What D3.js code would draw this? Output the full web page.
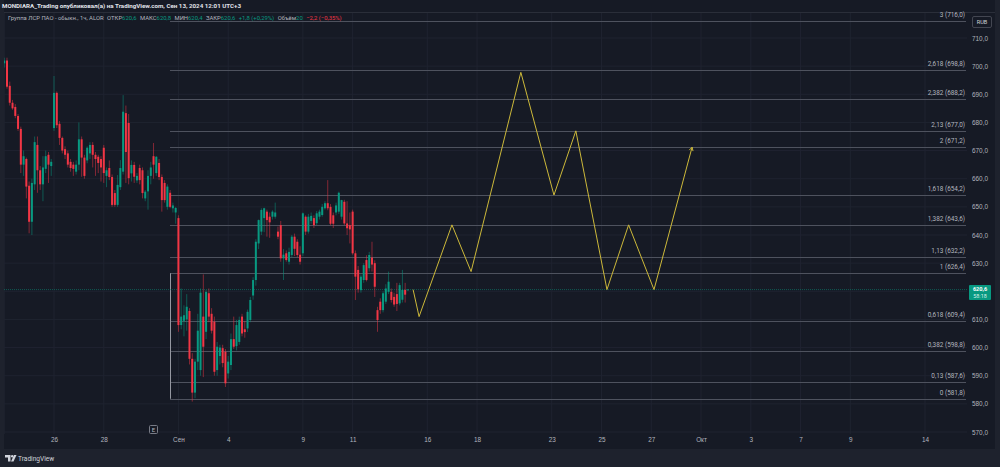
<!DOCTYPE html>
<html lang="ru">
<head>
<meta charset="UTF-8">
<title>Группа ЛСР ПАО, 1ч</title>
<script src="https://cdn.jsdelivr.net/npm/d3@7"></script>
<style>
  html, body { margin: 0; padding: 0; background: #1e222d; }
  svg { display: block; font-family: Roboto, "Noto Sans", Arial, sans-serif; }
</style>
</head>
<body>
<script>
// time axis: trading-day index -> label
const tickDays   = [2, 4, 7, 9, 12, 14, 17, 19, 22, 24, 26, 28, 30, 32, 34, 37];
const tickLabels = ["26", "28", "Сен", "4", "9", "11", "16", "18", "23", "25", "27", "Окт", "3", "7", "9", "14"];
const priceTicks = [570, 580, 590, 600, 610, 620, 630, 640, 650, 660, 670, 680, 690, 700, 710];

// hourly candles [open, high, low, close], 9 bars per trading day from Aug 22
const candles = [
  // Aug 22
  [701, 703, 699.5, 702], [702, 703, 692, 692.7], [693, 694.5, 686, 687], [687, 688, 684.5, 685],
  [685.5, 686.5, 681.5, 682.3], [682.3, 683, 677, 677.7], [677.7, 678.5, 662, 665], [665, 670, 661, 668],
  [667, 667.5, 653, 657.2],
  // Aug 23
  [657.5, 659, 640.6, 644.7], [644.7, 660, 640, 658.5], [658, 675, 656, 673], [672, 675, 655, 663],
  [663, 664.5, 656, 658], [658, 668, 652, 664], [663.5, 670, 662, 668], [668.5, 669.5, 658.5, 665],
  [664.5, 667, 661, 666],
  // Aug 26
  [678, 696.5, 677, 690.5], [690.5, 691, 678, 679], [679.5, 680.5, 672, 674.5], [674.5, 675, 669, 670],
  [670.5, 671.5, 667, 668.5], [669, 670, 664, 665], [666, 667, 662.5, 663.8], [665, 666, 661, 663.5],
  [662.5, 666.5, 661.5, 665],
  // Aug 27
  [665, 680, 663, 674], [674, 675, 660.7, 667.5], [667.5, 668.5, 660, 661], [666.5, 671.5, 665.5, 671],
  [669, 673, 667, 672], [672, 673, 664, 668.5], [668.5, 669.5, 661, 667], [667.8, 668.5, 662, 665.6],
  [667, 668, 659, 664],
  // Aug 28
  [671, 672, 658.5, 662], [661, 664, 657, 663], [663.8, 666.5, 659.5, 660.6], [660.6, 661.5, 650, 650.7],
  [654.9, 656, 650, 650.7], [650.7, 661.3, 650, 657.8], [657, 666.6, 656, 663.8], [662.5, 689.7, 661.5, 683.8],
  [683.3, 686, 658.5, 669.5],
  // Aug 29
  [679.8, 683, 658, 660.2], [661.9, 666.5, 659, 664.9], [664.9, 666, 658.5, 660.7], [659.4, 662, 658.5, 661],
  [663.8, 665, 658, 659.5], [663, 664, 653, 654.9], [653, 656, 652, 655.4], [655.5, 663, 649, 661],
  [661, 666, 658, 664],
  // Aug 30
  [668, 672.7, 660, 665], [662, 668, 661, 667.8], [665.6, 667, 659.5, 660.6], [660.6, 661.5, 648.3, 652.4],
  [658.5, 659.5, 651.5, 652.4], [650, 658, 649, 657.2], [655, 656, 649.5, 650], [649.5, 651.5, 648, 650.5],
  [648, 650, 644, 649.6],
  // Sep 2
  [646, 647, 605.6, 608], [608, 621, 606.5, 611], [609.5, 615, 604, 611.5], [610, 619, 606, 614.5],
  [613, 614, 594, 596], [596, 598, 580.8, 584], [584, 596, 582, 595], [595, 612, 592, 606],
  [592, 621, 590, 619.5],
  // Sep 3
  [611, 626, 589.5, 600.3], [605.6, 620.5, 603, 619.8], [619.3, 621, 609, 611], [612, 614, 605, 606],
  [609.2, 611, 590, 591.4], [592, 602, 590, 600.3], [597, 601, 594, 600], [599.8, 601, 593, 594.5],
  [598.5, 599.5, 586, 587.3],
  // Sep 4
  [590.8, 597, 589, 595], [593.8, 605, 592, 603], [603, 611, 599.5, 600.3], [600.5, 609.8, 599, 608],
  [602, 611, 601, 609.8], [611, 612, 604, 605], [606.5, 609.5, 603.5, 605.5], [606.8, 613.5, 605.5, 612.7],
  [609.8, 618, 609, 616.9],
  // Sep 5
  [618.5, 625, 617, 624], [624, 638.5, 622, 637.6], [637, 645.5, 635, 645.3], [641.2, 649.5, 640, 648.9],
  [646, 649.7, 641, 649.5], [648.3, 649, 639.4, 645.3], [646.5, 648, 639, 644.5], [646.5, 648.8, 645.5, 648.3],
  [646.5, 651.5, 645.8, 648],
  // Sep 6
  [641.2, 643, 638.5, 639.4], [643.5, 645, 630.5, 631.7], [631.7, 635, 624, 633], [633.5, 634.5, 630.5, 631.1],
  [630.5, 635.5, 629.5, 634], [632.9, 640, 632, 639.4], [639.4, 640.5, 632.5, 635.1], [637.6, 638.5, 632, 632.9],
  [633, 636, 629.5, 630.5],
  // Sep 9
  [633.5, 648, 632.5, 647.7], [646.5, 647, 640, 641.2], [641.2, 647.5, 640.5, 646.5], [645, 648, 644, 646.8],
  [646, 647, 642.5, 643.5], [644.2, 648.5, 643.5, 647.7], [646.5, 649, 645.5, 648.3], [647.1, 651, 646.5, 650],
  [649.5, 652, 649, 651.3],
  // Sep 10
  [651.3, 659.5, 648.8, 649.5], [650, 651, 643.5, 644], [647, 648, 642.5, 644], [648, 651.5, 647, 650.5],
  [648.3, 655.4, 647.5, 655], [646.5, 652.5, 645.5, 652.4], [651.8, 652.5, 643.5, 644.1], [644.1, 652, 640, 642.4],
  [643.5, 648, 637, 642],
  // Sep 11
  [648.3, 649, 633, 633.5], [633.5, 634.5, 616.9, 625.2], [627.6, 629, 619.5, 620.7], [620.4, 626, 619.5, 625.2],
  [624, 630, 623, 629.3], [631.1, 632.8, 623.5, 624], [628.2, 634, 627, 632.9], [632, 637.6, 627, 629.5],
  [630, 631, 618, 621.6],
  // Sep 12
  [613.3, 614.5, 605.6, 609.8], [616.3, 617.5, 612, 613.3], [613.3, 620, 612.5, 619.3], [616.3, 622.5, 615.5, 621],
  [619.8, 627, 619, 623.4], [619.8, 621, 616, 616.9], [618, 619.5, 614.5, 615.3], [619, 623, 613, 615.5],
  [615.7, 623, 615, 622.2],
  // Sep 13
  [617, 627.6, 616, 620.5], [620.5, 623, 616, 618.8], [620.6, 620.8, 620.4, 620.6]
];

// Fibonacci extension levels
const fibRatios = [0, 0.13, 0.382, 0.618, 1, 1.13, 1.382, 1.618, 2, 2.13, 2.382, 2.618, 3];
const fibPrices = [581.8, 587.6, 598.8, 609.4, 626.4, 632.2, 643.6, 654.2, 671.2, 677.0, 688.2, 698.8, 716.0];

// projected path (trading-day index, price)
const pathDays   = [16.43, 16.67, 17.99, 18.76, 20.76, 22.09, 22.97, 24.22, 25.09, 26.11, 27.64];
const pathPrices = [620.6, 611, 643.6, 627, 697.8, 654.2, 677, 620.6, 643.6, 620.6, 671.2];

const lastPrice = 620.6;

const W = 1000, H = 467;
const up = "#089981", down = "#f23645";
const comma = v => String(v).replace(".", ",");

const x = d3.scaleLinear().domain([0, 37]).range([4.23, 925]);
const y = d3.scaleLinear().domain([570, 710]).range([432, 38]);
const barX = i => x(Math.floor(i / 9) + (i % 9) / 9);

const svg = d3.select("body").append("svg").attr("width", W).attr("height", H);

// panels
svg.append("rect").attr("x", 0).attr("y", 0).attr("width", W).attr("height", H).attr("fill", "#1e222d");
svg.append("rect").attr("x", 4).attr("y", 0).attr("width", 991).attr("height", 449).attr("fill", "#161a25");
svg.append("line").attr("x1", 4).attr("x2", 995).attr("y1", 12.5).attr("y2", 12.5).attr("stroke", "#2a2e39");

svg.append("defs").append("clipPath").attr("id", "pane")
  .append("rect").attr("x", 4).attr("y", 13).attr("width", 963).attr("height", 421);

// grid
const grid = svg.append("g").attr("clip-path", "url(#pane)");
grid.selectAll("line.h").data(priceTicks).join("line")
  .attr("x1", 4).attr("x2", 967).attr("y1", d => y(d)).attr("y2", d => y(d))
  .attr("stroke", "#1f2330");
grid.selectAll("line.v").data([0].concat(tickDays)).join("line")
  .attr("x1", d => x(d)).attr("x2", d => x(d)).attr("y1", 13).attr("y2", 434)
  .attr("stroke", "#1f2330");

// fib levels
const fib = svg.append("g");
fib.selectAll("line").data(fibPrices).join("line")
  .attr("x1", 170).attr("x2", 966)
  .attr("y1", d => Math.round(y(d)) + 0.5).attr("y2", d => Math.round(y(d)) + 0.5)
  .attr("stroke", "#4e525e");
fib.selectAll("text").data(fibPrices).join("text")
  .attr("x", 965).attr("y", d => y(d) - 4)
  .attr("text-anchor", "end").attr("font-size", 6.4).attr("fill", "#b2b5be")
  .text((d, i) => `${comma(fibRatios[i])} (${d.toFixed(1).replace(".", ",")})`);
fib.append("line")
  .attr("x1", 170.5).attr("x2", 170.5).attr("y1", y(fibPrices[4])).attr("y2", y(fibPrices[0]))
  .attr("stroke", "#9598a1");

// last price line
svg.append("line")
  .attr("x1", 4).attr("x2", 967).attr("y1", y(lastPrice)).attr("y2", y(lastPrice))
  .attr("stroke", up).attr("stroke-opacity", 0.5).attr("stroke-dasharray", "1,1");

// candles
const cg = svg.append("g").attr("clip-path", "url(#pane)");
cg.selectAll("line").data(candles).join("line")
  .attr("x1", (d, i) => barX(i)).attr("x2", (d, i) => barX(i))
  .attr("y1", d => y(d[1])).attr("y2", d => y(d[2]))
  .attr("stroke", d => d[3] >= d[0] ? up : down).attr("stroke-opacity", 0.5).attr("stroke-width", 1);
cg.selectAll("rect").data(candles).join("rect")
  .attr("x", (d, i) => barX(i) - 1).attr("width", 2)
  .attr("y", d => y(Math.max(d[0], d[3])))
  .attr("height", d => Math.max(0.8, Math.abs(y(d[0]) - y(d[3]))))
  .attr("fill", d => d[3] >= d[0] ? up : down);

// projected path
const pts = pathDays.map((d, i) => [x(d), y(pathPrices[i])]);
svg.append("path").attr("d", d3.line()(pts))
  .attr("fill", "none").attr("stroke", "#cdb93a").attr("stroke-width", 1);
const [ax, ay] = pts[pts.length - 1], [bx, by] = pts[pts.length - 2];
const ang = Math.atan2(ay - by, ax - bx);
svg.append("path")
  .attr("d", d3.line()([
    [ax - 4 * Math.cos(ang - 0.5), ay - 4 * Math.sin(ang - 0.5)], [ax, ay],
    [ax - 4 * Math.cos(ang + 0.5), ay - 4 * Math.sin(ang + 0.5)]]))
  .attr("fill", "none").attr("stroke", "#cdb93a").attr("stroke-width", 1);

// price axis (the label under the last-price badge is hidden, as on the chart)
const ly = y(lastPrice);
const ya = svg.append("g").attr("transform", "translate(972,0)")
  .call(d3.axisRight(y).tickValues(priceTicks.filter(p => Math.abs(y(p) - ly) > 10)).tickSize(0).tickPadding(0)
    .tickFormat(d => d.toFixed(1).replace(".", ",")));
ya.select(".domain").remove();
ya.selectAll("text").attr("font-size", 6.4).attr("fill", "#b2b5be").attr("font-family", null);

// time axis
const xa = svg.append("g").attr("transform", "translate(0,437)")
  .call(d3.axisBottom(x).tickValues(tickDays).tickSize(0).tickPadding(0)
    .tickFormat((d, i) => tickLabels[i]));
xa.select(".domain").remove();
xa.selectAll("text").attr("font-size", 6.4).attr("fill", "#b2b5be").attr("font-family", null);

// RUB badge
svg.append("rect").attr("x", 972.5).attr("y", 16.5).attr("width", 19).attr("height", 11)
  .attr("rx", 1.5).attr("fill", "#161a25").attr("stroke", "#434651");
svg.append("text").attr("x", 982).attr("y", 24.2).attr("text-anchor", "middle")
  .attr("font-size", 5.6).attr("fill", "#d1d4dc").text("RUB");

// last price badge
svg.append("rect").attr("x", 969).attr("y", ly - 4.5).attr("width", 22).attr("height", 15)
  .attr("rx", 1).attr("fill", up);
svg.append("text").attr("x", 980).attr("y", ly + 1.4).attr("text-anchor", "middle")
  .attr("font-size", 5.6).attr("font-weight", "bold").attr("fill", "#ffffff").text(comma(lastPrice));
svg.append("text").attr("x", 980).attr("y", ly + 8.6).attr("text-anchor", "middle")
  .attr("font-size", 5.4).attr("fill", "#d7f0ea").text("58:18");

// earnings marker
svg.append("rect").attr("x", 149.5).attr("y", 425.5).attr("width", 8).attr("height", 8)
  .attr("rx", 1).attr("fill", "#161a25").attr("stroke", "#787b86");
svg.append("text").attr("x", 153.5).attr("y", 431.8).attr("text-anchor", "middle")
  .attr("font-size", 6).attr("fill", "#b2b5be").text("E");

// header
svg.append("text").attr("x", 2).attr("y", 8).attr("font-size", 6.2).attr("font-weight", "bold")
  .attr("fill", "#e1e3ea").text("MONDIARA_Trading опубликовал(а) на TradingView.com, Сен 13, 2024 12:01 UTC+3");

const legend = [
  ["Группа ЛСР ПАО - обыкн., 1ч, ALOR", "#b2b5be", 0],
  ["ОТКР", "#b2b5be", 3.5], ["620,6", up, 0],
  ["МАКС", "#b2b5be", 3.5], ["620,8", up, 0],
  ["МИН", "#b2b5be", 3.5], ["620,4", up, 0],
  ["ЗАКР", "#b2b5be", 3.5], ["620,6", up, 0],
  ["+1,8 (+0,29%)", up, 3.5],
  ["Объём", "#b2b5be", 3.5], ["20", up, 0],
  ["−2,2 (−0,35%)", down, 3.5]
];
svg.append("text").attr("x", 8).attr("y", 19.5).attr("font-size", 5.9)
  .selectAll("tspan").data(legend).join("tspan")
  .attr("dx", d => d[2]).attr("fill", d => d[1]).text(d => d[0]);

// footer logo
svg.append("path").attr("d", "M5 455h5.5v6.5h-2.5v-4h-3z").attr("fill", "#d1d4dc");
svg.append("circle").attr("cx", 12.2).attr("cy", 456.2).attr("r", 1.2).attr("fill", "#d1d4dc");
svg.append("path").attr("d", "M11 461.5l3-6.5h2.5l-3 6.5z").attr("fill", "#d1d4dc");
svg.append("text").attr("x", 18).attr("y", 460.8).attr("font-size", 6.6).attr("fill", "#d1d4dc").text("TradingView");
</script>
</body>
</html>
